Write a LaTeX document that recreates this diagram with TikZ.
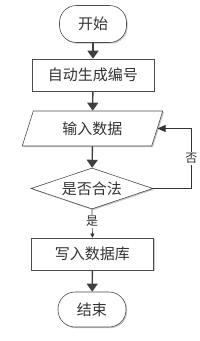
\documentclass[tikz,border=0pt]{standalone}
\usepackage{fontspec}
\newfontfamily\cjk{Noto Sans CJK SC}
\usetikzlibrary{shapes.geometric,arrows.meta,shadows}
\begin{document}
\begin{tikzpicture}[x=1pt,y=-1pt,
  base/.style={draw=black!70, line width=0.6pt, fill=white, text=black!80,
    font=\cjk\fontsize{15}{15}\selectfont, inner sep=0pt,
    drop shadow={shadow xshift=1.2pt,shadow yshift=-1.2pt,fill=black!22,opacity=1}},
  term/.style={base, rectangle, rounded corners=17pt, minimum width=67pt, minimum height=37pt},
  proc/.style={base, rectangle, minimum width=122pt, minimum height=32pt},
  io/.style={base, trapezium, trapezium left angle=68, trapezium right angle=112,
    trapezium stretches=true, minimum width=141pt, minimum height=35pt},
  dec/.style={base, diamond, aspect=3, minimum width=122pt, minimum height=41pt},
  arr/.style={draw=black!75, line width=1.4pt, -{Triangle[length=8pt,width=11pt]}},
  thin/.style={draw=black!80, line width=0.7pt},
  lbl/.style={font=\cjk\fontsize{12}{12}\selectfont, text=black!80, fill=white, inner sep=1pt}]
\fill[white] (0,0) rectangle (200,341);
\useasboundingbox (0,0) rectangle (200,341);
\node[term] (start) at (93,24) {开始};
\node[proc] (gen) at (93,75) {自动生成编号};
\node[io] (in) at (92.5,128.5) {输入数据};
\node[dec] (chk) at (92,188.5) {是否合法};
\node[proc] (db) at (92.5,254) {写入数据库};
\node[term, minimum height=35pt, minimum width=68pt] (end) at (92,309.5) {结束};
\draw[arr] (start) -- (gen);
\draw[arr] (gen) -- (in);
\draw[arr] (in) -- (chk);
\draw[thin, -{Triangle[length=4pt,width=4pt]}] (chk.south) -- node[lbl, pos=0.42] {是} (db.north);
\draw[arr] (db) -- (end);
\draw[thin, -{Triangle[length=8pt,width=7pt]}] (chk.east) -- ++(38,0) |- node[lbl, pos=0.25] {否} (in.east);
\end{tikzpicture}
\end{document}
